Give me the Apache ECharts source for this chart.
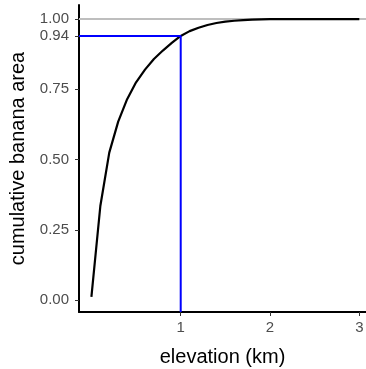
<!DOCTYPE html>
<html>
<head>
<meta charset="utf-8">
<script src="https://cdn.jsdelivr.net/npm/echarts@6/dist/echarts.min.js"></script>
<style>
  html, body { margin: 0; padding: 0; background: #fff; }
  #chart { width: 366px; height: 369px; }
</style>
</head>
<body>
<div id="chart"></div>
<script>
const elevation = [0.0, 0.1, 0.2, 0.3, 0.4, 0.5, 0.6, 0.7, 0.8, 0.9, 1.0, 1.1, 1.2, 1.3, 1.4, 1.5, 1.6, 1.7, 1.8, 1.9, 2.0, 2.2, 2.4, 2.6, 2.8, 3.0];
const area = [0.012, 0.335, 0.525, 0.635, 0.715, 0.775, 0.82, 0.858, 0.888, 0.915, 0.94, 0.957, 0.969, 0.979, 0.986, 0.991, 0.994, 0.996, 0.998, 0.999, 0.9995, 0.9998, 1.0, 1.0, 1.0, 1.0];
const xTicks = [1, 2, 3];
const yTicks = [0, 0.25, 0.5, 0.75, 0.94, 1];
const cutX = 1;
const cutY = 0.94;

const xMin = -0.139, xMax = 3.075;
const yMin = -0.042, yMax = 1.05;

const chart = echarts.init(document.getElementById("chart"));
chart.setOption({
  animation: false,
  grid: { left: 79, right: 0, top: 5, bottom: 57, containLabel: false, outerBoundsMode: "none" },
  xAxis: {
    type: "value",
    min: xMin,
    max: xMax,
    name: "elevation (km)",
    nameLocation: "middle",
    nameGap: 35,
    nameTextStyle: { color: "#000", fontSize: 20, fontFamily: "Liberation Sans" },
    axisLine: { show: true, onZero: false, lineStyle: { color: "#000", width: 2 } },
    axisTick: { show: true, customValues: xTicks, length: 4, lineStyle: { color: "#333", width: 1 } },
    axisLabel: {
      customValues: xTicks,
      color: "#4d4d4d",
      fontSize: 15,
      margin: 8,
      fontFamily: "Liberation Sans",
      formatter: (v) => String(v),
    },
    splitLine: { show: false },
  },
  yAxis: {
    type: "value",
    min: yMin,
    max: yMax,
    name: "cumulative banana area",
    nameLocation: "middle",
    nameGap: 47,
    nameTextStyle: { color: "#000", fontSize: 20, fontFamily: "Liberation Sans" },
    axisLine: { show: true, onZero: false, lineStyle: { color: "#000", width: 2 } },
    axisTick: { show: true, customValues: yTicks, length: 4, lineStyle: { color: "#333", width: 1 } },
    axisLabel: {
      customValues: yTicks,
      color: "#4d4d4d",
      fontSize: 15,
      margin: 10,
      fontFamily: "Liberation Sans",
      formatter: (v) => v.toFixed(2),
    },
    splitLine: { show: false },
  },
  series: [
    {
      type: "line",
      data: [[xMin, 1], [xMax, 1]],
      symbol: "none",
      lineStyle: { color: "#bebebe", width: 2 },
      silent: true,
      z: 1,
    },
    {
      type: "line",
      data: elevation.map((e, i) => [e, area[i]]),
      symbol: "none",
      lineStyle: { color: "#000", width: 2.2 },
      z: 2,
    },
    {
      type: "line",
      data: [[xMin, cutY], [cutX, cutY], [cutX, yMin]],
      symbol: "none",
      lineStyle: { color: "#0000ff", width: 2 },
      z: 3,
    },
  ],
});
</script>
</body>
</html>
